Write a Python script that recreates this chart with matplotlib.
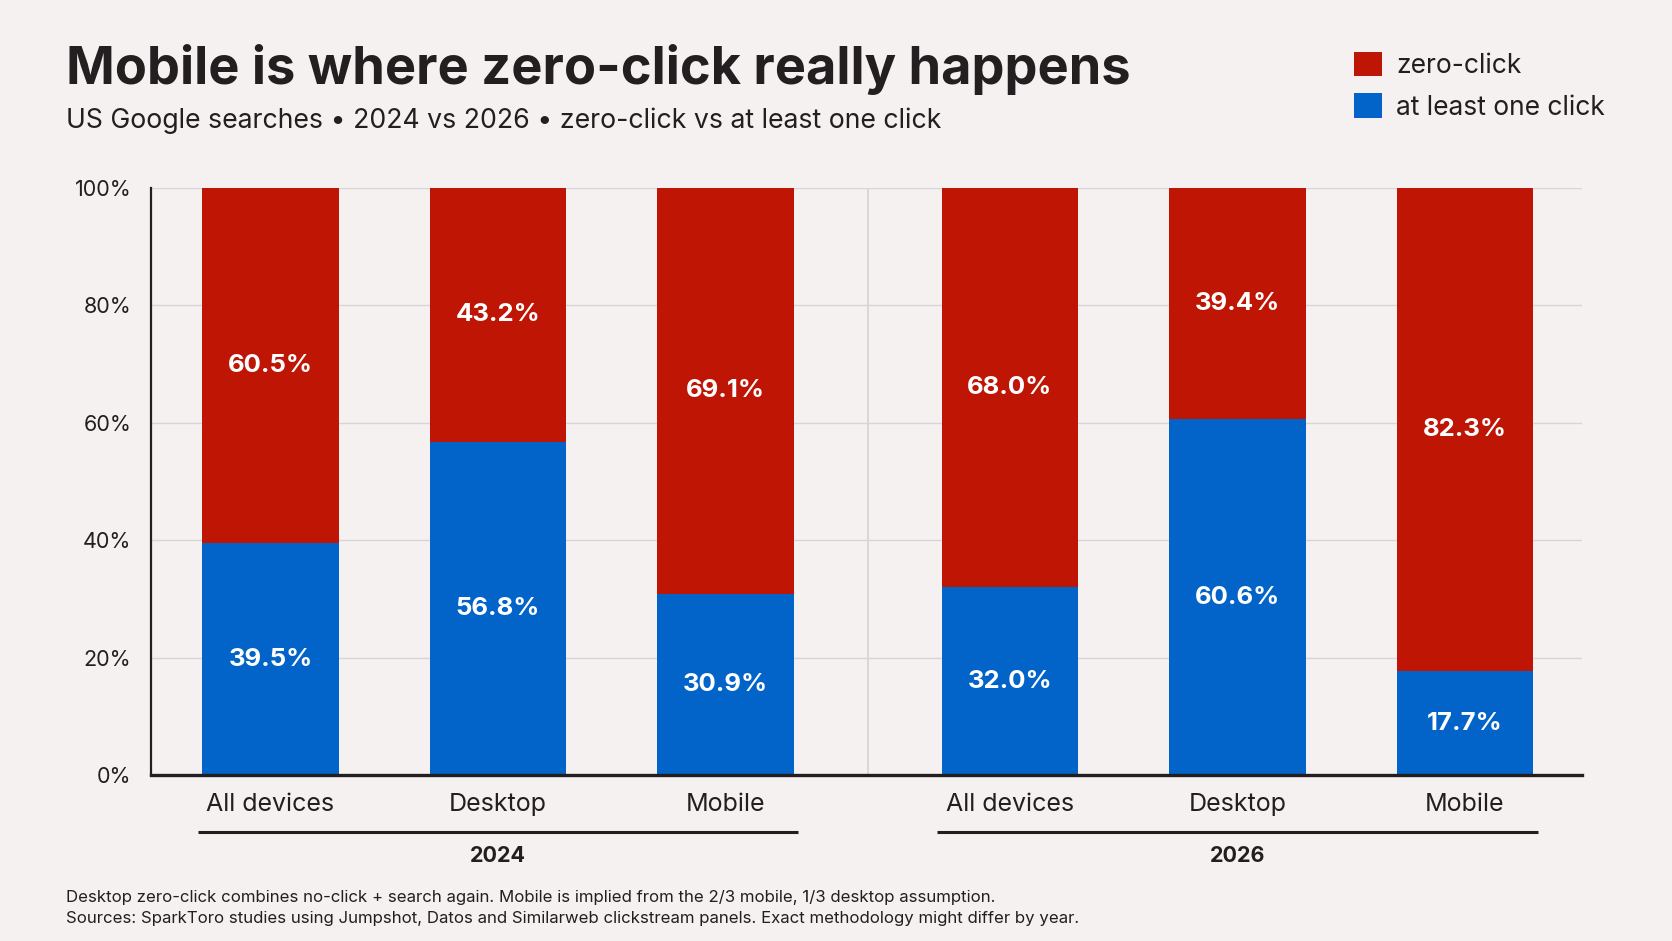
import matplotlib.pyplot as plt
import matplotlib.transforms as mtransforms
from matplotlib.patches import Patch

# data
years = ["2024", "2026"]
devices = ["All devices", "Desktop", "Mobile"]
zero_click = [60.5, 43.2, 69.1, 68.0, 39.4, 82.3]
one_click = [39.5, 56.8, 30.9, 32.0, 60.6, 17.7]

BG = "#f4f1f0"
RED = "#be1504"
BLUE = "#0263c9"
INK = "#231f20"
GRID = "#d9d5d6"
FONT = "Inter"

plt.rcParams["font.family"] = [FONT, "DejaVu Sans"]

fig = plt.figure(figsize=(16.72, 9.41), dpi=100, facecolor=BG)
ax = fig.add_axes([0.0901, 0.1764, 0.8563, 0.6238], facecolor=BG)

# bar positions: 3 bars per year, a wider gap between years
extra_gap = 0.25
xs = [i + extra_gap * (i // 3) for i in range(len(zero_click))]
width = 0.6

b1 = ax.bar(xs, one_click, width=width, color=BLUE, zorder=3)
b2 = ax.bar(xs, zero_click, width=width, bottom=one_click, color=RED, zorder=3)
for cont, vals in ((b1, one_click), (b2, zero_click)):
    ax.bar_label(cont, labels=[f"{v:.1f}%" for v in vals], label_type="center",
                 color="white", fontsize=18.5, fontweight="bold")

ax.set_ylim(0, 100)
ax.set_xlim(-0.527, 5.767)
ax.set_yticks(range(0, 101, 20))
ax.set_yticklabels([f"{v}%" for v in range(0, 101, 20)])
ax.set_xticks(xs)
ax.set_xticklabels(devices * len(years))
ax.tick_params(axis="y", length=0, pad=14, labelsize=15.5, labelcolor=INK)
ax.tick_params(axis="x", length=0, pad=13, labelsize=18, labelcolor=INK)

ax.yaxis.grid(True, color=GRID, lw=1)
ax.set_axisbelow(True)
for s in ("top", "right"):
    ax.spines[s].set_visible(False)
ax.spines["left"].set_color(INK)
ax.spines["left"].set_linewidth(1.6)
ax.spines["bottom"].set_color(INK)
ax.spines["bottom"].set_linewidth(2.4)
ax.spines["bottom"].set_zorder(4)

# divider between years
ax.axvline((xs[2] + xs[3]) / 2, color=GRID, lw=1.3, zorder=1)

# year brackets under the device labels
trans = mtransforms.blended_transform_factory(ax.transData, ax.transAxes)
for g, yr in enumerate(years):
    x0 = xs[g * 3] - width / 2 - 0.02
    x1 = xs[g * 3 + 2] + width / 2 + 0.02
    ax.plot([x0, x1], [-0.0966, -0.0966], color=INK, lw=2.2,
            transform=trans, clip_on=False, solid_capstyle="butt")
    ax.text((x0 + x1) / 2, -0.138, yr, transform=trans, ha="center", va="center",
            fontsize=15.5, fontweight="bold", color=INK)

# titles
fig.text(66 / 1672, 1 - 84 / 941, "Mobile is where zero-click really happens",
         fontsize=37.7, fontweight="bold", color=INK, va="baseline")
fig.text(66 / 1672, 1 - 128 / 941,
         "US Google searches \u2022 2024 vs 2026 \u2022 zero-click vs at least one click",
         fontsize=19.2, color=INK, va="baseline")

# legend
handles = [Patch(facecolor=RED, edgecolor="none", label="zero-click"),
           Patch(facecolor=BLUE, edgecolor="none", label="at least one click")]
fig.legend(handles=handles, loc="upper left", bbox_to_anchor=(1354 / 1672, 1 - 52 / 941),
           frameon=False, fontsize=19, handlelength=1.05, handleheight=1.05,
           handletextpad=0.55, labelspacing=0.54, borderpad=0, borderaxespad=0,
           labelcolor=INK)

# footnotes
fig.text(66 / 1672, 1 - 902 / 941,
         "Desktop zero-click combines no-click + search again. Mobile is implied from the 2/3 mobile, 1/3 desktop assumption.",
         fontsize=12.1, color=INK, va="baseline")
fig.text(66 / 1672, 1 - 923 / 941,
         "Sources: SparkToro studies using Jumpshot, Datos and Similarweb clickstream panels. Exact methodology might differ by year.",
         fontsize=12.1, color=INK, va="baseline")

fig.savefig("out.png", dpi=100, facecolor=BG)
